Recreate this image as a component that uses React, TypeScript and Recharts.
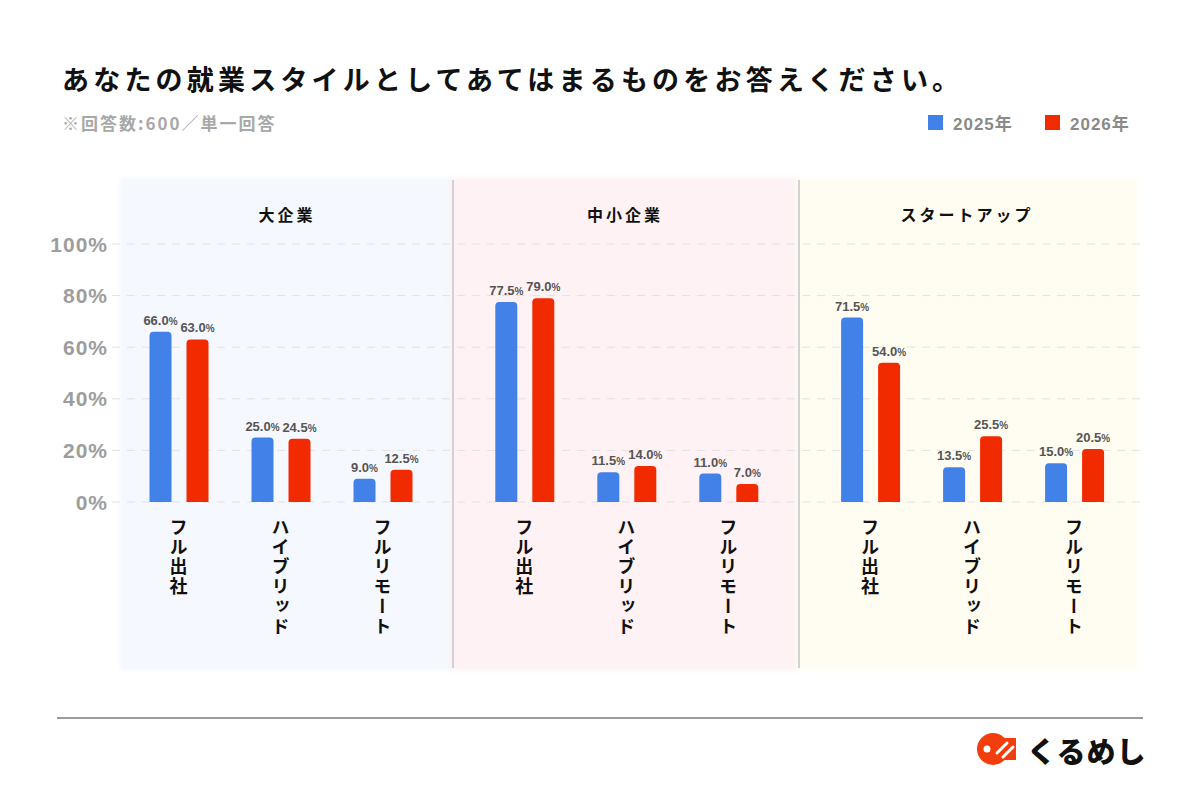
import React from "react";
import { BarChart, Bar, XAxis, YAxis, CartesianGrid, LabelList } from "recharts";

const companyTypes = ["大企業", "中小企業", "スタートアップ"];
const workStyles = ["フル出社", "ハイブリッド", "フルリモート"];
const seriesNames = ["2025年", "2026年"];
const share2025 = [66.0, 25.0, 9.0, 77.5, 11.5, 11.0, 71.5, 13.5, 15.0];
const share2026 = [63.0, 24.5, 12.5, 79.0, 14.0, 7.0, 54.0, 25.5, 20.5];
const yTicks = [0, 20, 40, 60, 80, 100];

const BLUE = "#4281e7";
const RED = "#f22a00";
const SERIES_COLORS = [BLUE, RED];
const JP = "'Noto Sans CJK JP', 'Noto Sans', sans-serif";
const NUM = "'Liberation Sans', Arial, 'Noto Sans CJK JP', sans-serif";

// extra space between company groups, in category units
const GROUP_GAP = 0.39;

// note: row fields get spread onto bar shapes, so avoid names like "style"
const rows = companyTypes.flatMap((company, g) =>
  workStyles.map((workStyle, k) => ({
    pos: g * (workStyles.length + GROUP_GAP) + k,
    company,
    workStyle,
    y2025: share2025[g * workStyles.length + k],
    y2026: share2026[g * workStyles.length + k],
  }))
);
const tickPositions = rows.map((r) => r.pos);

const panels = [
  { left: 122, right: 452, bg: "#f5f8fe" },
  { left: 452, right: 798, bg: "#fef2f4" },
  { left: 798, right: 1136, bg: "#fffdf1" },
];

function renderStyleTick(props: any) {
  const { x, y, payload } = props;
  const row = rows.find((r) => Math.abs(r.pos - payload.value) < 1e-6);
  if (!row) return <g />;
  return (
    <text
      x={x}
      y={y + 16}
      writingMode="vertical-rl"
      textAnchor="start"
      fontFamily={JP}
      fontSize={18}
      fontWeight={700}
      letterSpacing={1.8}
      fill="#111"
    >
      {row.workStyle}
    </text>
  );
}

function renderPercentTick(props: any) {
  const { x, y, payload } = props;
  return (
    <text
      x={x}
      y={y}
      dy="0.36em"
      textAnchor="end"
      fontFamily={NUM}
      fontSize={21}
      fontWeight={700}
      letterSpacing={1}
      fill="#9d9d9d"
    >
      {`${payload.value}%`}
    </text>
  );
}

function renderValueLabel(props: any) {
  const { x, y, width, value } = props;
  return (
    <text
      x={Number(x) + Number(width) / 2}
      y={Number(y) - 7}
      textAnchor="middle"
      fontFamily={NUM}
      fontWeight={700}
      fill="#555"
    >
      <tspan fontSize={13}>{Number(value).toFixed(1)}</tspan>
      <tspan fontSize={10}>%</tspan>
    </text>
  );
}

export default function App() {
  return (
    <div
      style={{
        position: "absolute",
        left: 0,
        top: 0,
        width: 1200,
        height: 800,
        background: "#fff",
        overflow: "hidden",
        fontFamily: JP,
      }}
    >
      <div
        style={{
          position: "absolute",
          left: 62,
          top: 59,
          fontSize: 27,
          fontWeight: 700,
          letterSpacing: 4.2,
          color: "#111",
          whiteSpace: "nowrap",
        }}
      >
        あなたの就業スタイルとしてあてはまるものをお答えください。
      </div>
      <div
        style={{
          position: "absolute",
          left: 62,
          top: 110,
          fontSize: 17,
          fontWeight: 700,
          letterSpacing: 2,
          color: "#a8a8a8",
          whiteSpace: "nowrap",
        }}
      >
        ※回答数:600／単一回答
      </div>

      {/* legend */}
      {seriesNames.map((name, i) => (
        <div
          key={name}
          style={{
            position: "absolute",
            left: 928 + i * 117,
            top: 110,
            display: "flex",
            alignItems: "center",
            gap: 10,
            whiteSpace: "nowrap",
          }}
        >
          <span style={{ width: 15, height: 15, background: SERIES_COLORS[i], display: "inline-block" }} />
          <span style={{ fontFamily: NUM, fontSize: 17, fontWeight: 700, color: "#8a8a8a", letterSpacing: 1 }}>
            {name}
          </span>
        </div>
      ))}

      {/* tinted panels behind each company group */}
      {panels.map((p, i) => (
        <div
          key={i}
          style={{
            position: "absolute",
            left: p.left,
            top: 180,
            width: p.right - p.left,
            height: 488,
            background: p.bg,
            boxShadow: "0 0 6px 2px " + p.bg,
          }}
        />
      ))}
      {[452, 798].map((x) => (
        <div
          key={x}
          style={{ position: "absolute", left: x, top: 180, width: 1.5, height: 488, background: "#d2d2d2" }}
        />
      ))}
      {companyTypes.map((name, i) => (
        <div
          key={name}
          style={{
            position: "absolute",
            left: panels[i].left,
            width: panels[i].right - panels[i].left,
            top: 202,
            textAlign: "center",
            fontSize: 16,
            fontWeight: 700,
            letterSpacing: 3,
            color: "#111",
          }}
        >
          {name}
        </div>
      ))}

      <div style={{ position: "absolute", left: 0, top: 0 }}>
        <BarChart
          width={1200}
          height={800}
          data={rows}
          margin={{ top: 244, right: 60, bottom: 138, left: 52 }}
          barSize={22}
          barGap={15}
        >
          <CartesianGrid vertical={false} stroke="#e2e2e2" strokeDasharray="8 7" />
          <XAxis
            dataKey="pos"
            type="number"
            domain={[-0.652, 9.426]}
            ticks={tickPositions}
            interval={0}
            allowDataOverflow
            tick={renderStyleTick}
            tickLine={false}
            axisLine={false}
            tickSize={0}
            tickMargin={0}
            height={160}
          />
          <YAxis
            domain={[0, 100]}
            ticks={yTicks}
            tick={renderPercentTick}
            tickLine={false}
            axisLine={false}
            tickSize={0}
            tickMargin={4}
            width={60}
          />
          <Bar dataKey="y2025" fill={BLUE} radius={[4, 4, 0, 0]} isAnimationActive={false}>
            <LabelList dataKey="y2025" content={renderValueLabel} />
          </Bar>
          <Bar dataKey="y2026" fill={RED} radius={[4, 4, 0, 0]} isAnimationActive={false}>
            <LabelList dataKey="y2026" content={renderValueLabel} />
          </Bar>
        </BarChart>
      </div>

      <div style={{ position: "absolute", left: 57, top: 717, width: 1086, height: 1.5, background: "#9c9c9c" }} />

      {/* brand mark */}
      <svg width={42} height={34} style={{ position: "absolute", left: 976, top: 732 }}>
        <circle cx={17} cy={17} r={16} fill="#f23d0c" />
        <path d="M26 6 L40 6 L40 28 L26 28 Z" fill="#f23d0c" />
        <circle cx={11} cy={17} r={3.5} fill="#fff" />
        <path d="M21 21 L31 11" stroke="#fff" strokeWidth={3} strokeLinecap="round" />
        <path d="M27 25 L37 15" stroke="#fff" strokeWidth={3} strokeLinecap="round" />
      </svg>
      <div
        style={{
          position: "absolute",
          left: 1027,
          top: 729,
          fontSize: 29,
          fontWeight: 900,
          letterSpacing: 1,
          color: "#111",
          whiteSpace: "nowrap",
        }}
      >
        くるめし
      </div>
    </div>
  );
}
